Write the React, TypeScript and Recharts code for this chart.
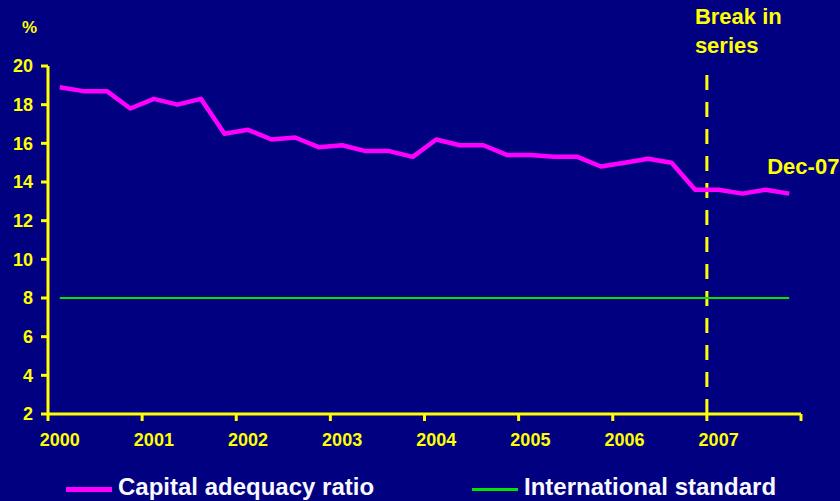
import { LineChart, Line, XAxis, YAxis, ReferenceLine } from "recharts";

const quarters = [
  "Mar-00", "Jun-00", "Sep-00", "Dec-00", "Mar-01", "Jun-01", "Sep-01", "Dec-01",
  "Mar-02", "Jun-02", "Sep-02", "Dec-02", "Mar-03", "Jun-03", "Sep-03", "Dec-03",
  "Mar-04", "Jun-04", "Sep-04", "Dec-04", "Mar-05", "Jun-05", "Sep-05", "Dec-05",
  "Mar-06", "Jun-06", "Sep-06", "Dec-06", "Mar-07", "Jun-07", "Sep-07", "Dec-07",
];
const capitalAdequacy = [
  18.9, 18.7, 18.7, 17.8, 18.3, 18.0, 18.3, 16.5,
  16.7, 16.2, 16.3, 15.8, 15.9, 15.6, 15.6, 15.3,
  16.2, 15.9, 15.9, 15.4, 15.4, 15.3, 15.3, 14.8,
  15.0, 15.2, 15.0, 13.6, 13.6, 13.4, 13.6, 13.4,
];
const intlStandard = [
  8, 8, 8, 8, 8, 8, 8, 8, 8, 8, 8, 8, 8, 8, 8, 8,
  8, 8, 8, 8, 8, 8, 8, 8, 8, 8, 8, 8, 8, 8, 8, 8,
];
const years = ["2000", "2001", "2002", "2003", "2004", "2005", "2006", "2007"];
const yTicks = [2, 4, 6, 8, 10, 12, 14, 16, 18, 20];
const breakQuarter = "Mar-07";
const seriesNames = ["Capital adequacy ratio", "International standard"];

const YELLOW = "#FFFF00";
const MAGENTA = "#FF00FF";
const GREEN = "#00E600";
const BG = "#000080";
const FONT = "'Liberation Sans', Arial, sans-serif";

const data = quarters.map((q, i) => ({
  pos: i + 0.5,
  quarter: q,
  car: capitalAdequacy[i],
  intl: intlStandard[i],
}));

// year boundaries get a tick mark, first quarter centres get the label
const boundaryTicks = years.map((_, i) => i * 4).concat([years.length * 4]);
const labelTicks = years.map((_, i) => i * 4 + 0.5);
const xTicks = [...boundaryTicks, ...labelTicks].sort((a, b) => a - b);

function XTick(props: any) {
  const { x, y, payload } = props;
  const v = payload.value;
  if (Number.isInteger(v)) {
    return <line x1={x} x2={x} y1={y - 19} y2={y - 12} stroke={YELLOW} strokeWidth={3} />;
  }
  const label = years[Math.floor(v / 4)];
  return (
    <text x={x} y={y} dy="0.71em" textAnchor="middle" fill={YELLOW} fontSize={18} fontWeight="bold" fontFamily={FONT}>
      {label}
    </text>
  );
}

function LastLabel(props: any) {
  const { x, y, index } = props;
  if (index !== quarters.length - 1) return null;
  return (
    <text x={x - 22} y={y - 20} fill={YELLOW} fontSize={22} fontWeight="bold" fontFamily={FONT}>
      {quarters[index]}
    </text>
  );
}

function BreakLabel(props: any) {
  const { viewBox } = props;
  const x = viewBox.x - 12;
  return (
    <text fill={YELLOW} fontSize={22} fontWeight="bold" fontFamily={FONT}>
      <tspan x={x} y={viewBox.y - 42}>Break in</tspan>
      <tspan x={x} y={viewBox.y - 13}>series</tspan>
    </text>
  );
}

export default function App() {
  const breakPos = quarters.indexOf(breakQuarter);
  return (
    <div style={{ position: "relative", width: 840, height: 501, background: BG, fontFamily: FONT, overflow: "hidden" }}>
      <style>{"body{margin:0}"}</style>
      <LineChart width={840} height={501} data={data} margin={{ top: 66, right: 39, bottom: 52, left: 0 }}>
        <XAxis
          dataKey="pos"
          type="number"
          domain={[0, quarters.length]}
          ticks={xTicks}
          interval={0}
          height={35}
          tickSize={7}
          tickMargin={12}
          tickLine={false}
          axisLine={{ stroke: YELLOW, strokeWidth: 3 }}
          tick={<XTick />}
        />
        <YAxis
          domain={[2, 20]}
          ticks={yTicks}
          width={48}
          tickSize={7}
          tickMargin={8}
          interval={0}
          axisLine={{ stroke: YELLOW, strokeWidth: 3 }}
          tickLine={{ stroke: YELLOW, strokeWidth: 3 }}
          tick={{ fill: YELLOW, fontSize: 18, fontWeight: "bold", fontFamily: FONT }}
        />
        <ReferenceLine
          x={breakPos}
          stroke={YELLOW}
          strokeWidth={3}
          strokeDasharray="15 12"
          label={<BreakLabel />}
        />
        <Line
          dataKey="intl"
          stroke={GREEN}
          strokeWidth={2}
          dot={false}
          isAnimationActive={false}
          name={seriesNames[1]}
        />
        <Line
          dataKey="car"
          stroke={MAGENTA}
          strokeWidth={4.5}
          strokeLinejoin="round"
          dot={false}
          isAnimationActive={false}
          name={seriesNames[0]}
          label={<LastLabel />}
        />
      </LineChart>
      <div style={{ position: "absolute", left: 22, top: 19, color: YELLOW, fontSize: 17, fontWeight: "bold", lineHeight: "17px" }}>%</div>
      {seriesNames.map((name, i) => (
        <div key={name} style={{ position: "absolute", top: 475, left: i === 0 ? 66 : 472, display: "flex", alignItems: "center", lineHeight: "24px" }}>
          <div style={{ width: 46, height: i === 0 ? 5 : 3, background: i === 0 ? MAGENTA : GREEN, marginRight: 6, marginTop: 4 }} />
          <span style={{ color: "#F8F8FF", fontSize: 24, fontWeight: "bold" }}>{name}</span>
        </div>
      ))}
    </div>
  );
}
